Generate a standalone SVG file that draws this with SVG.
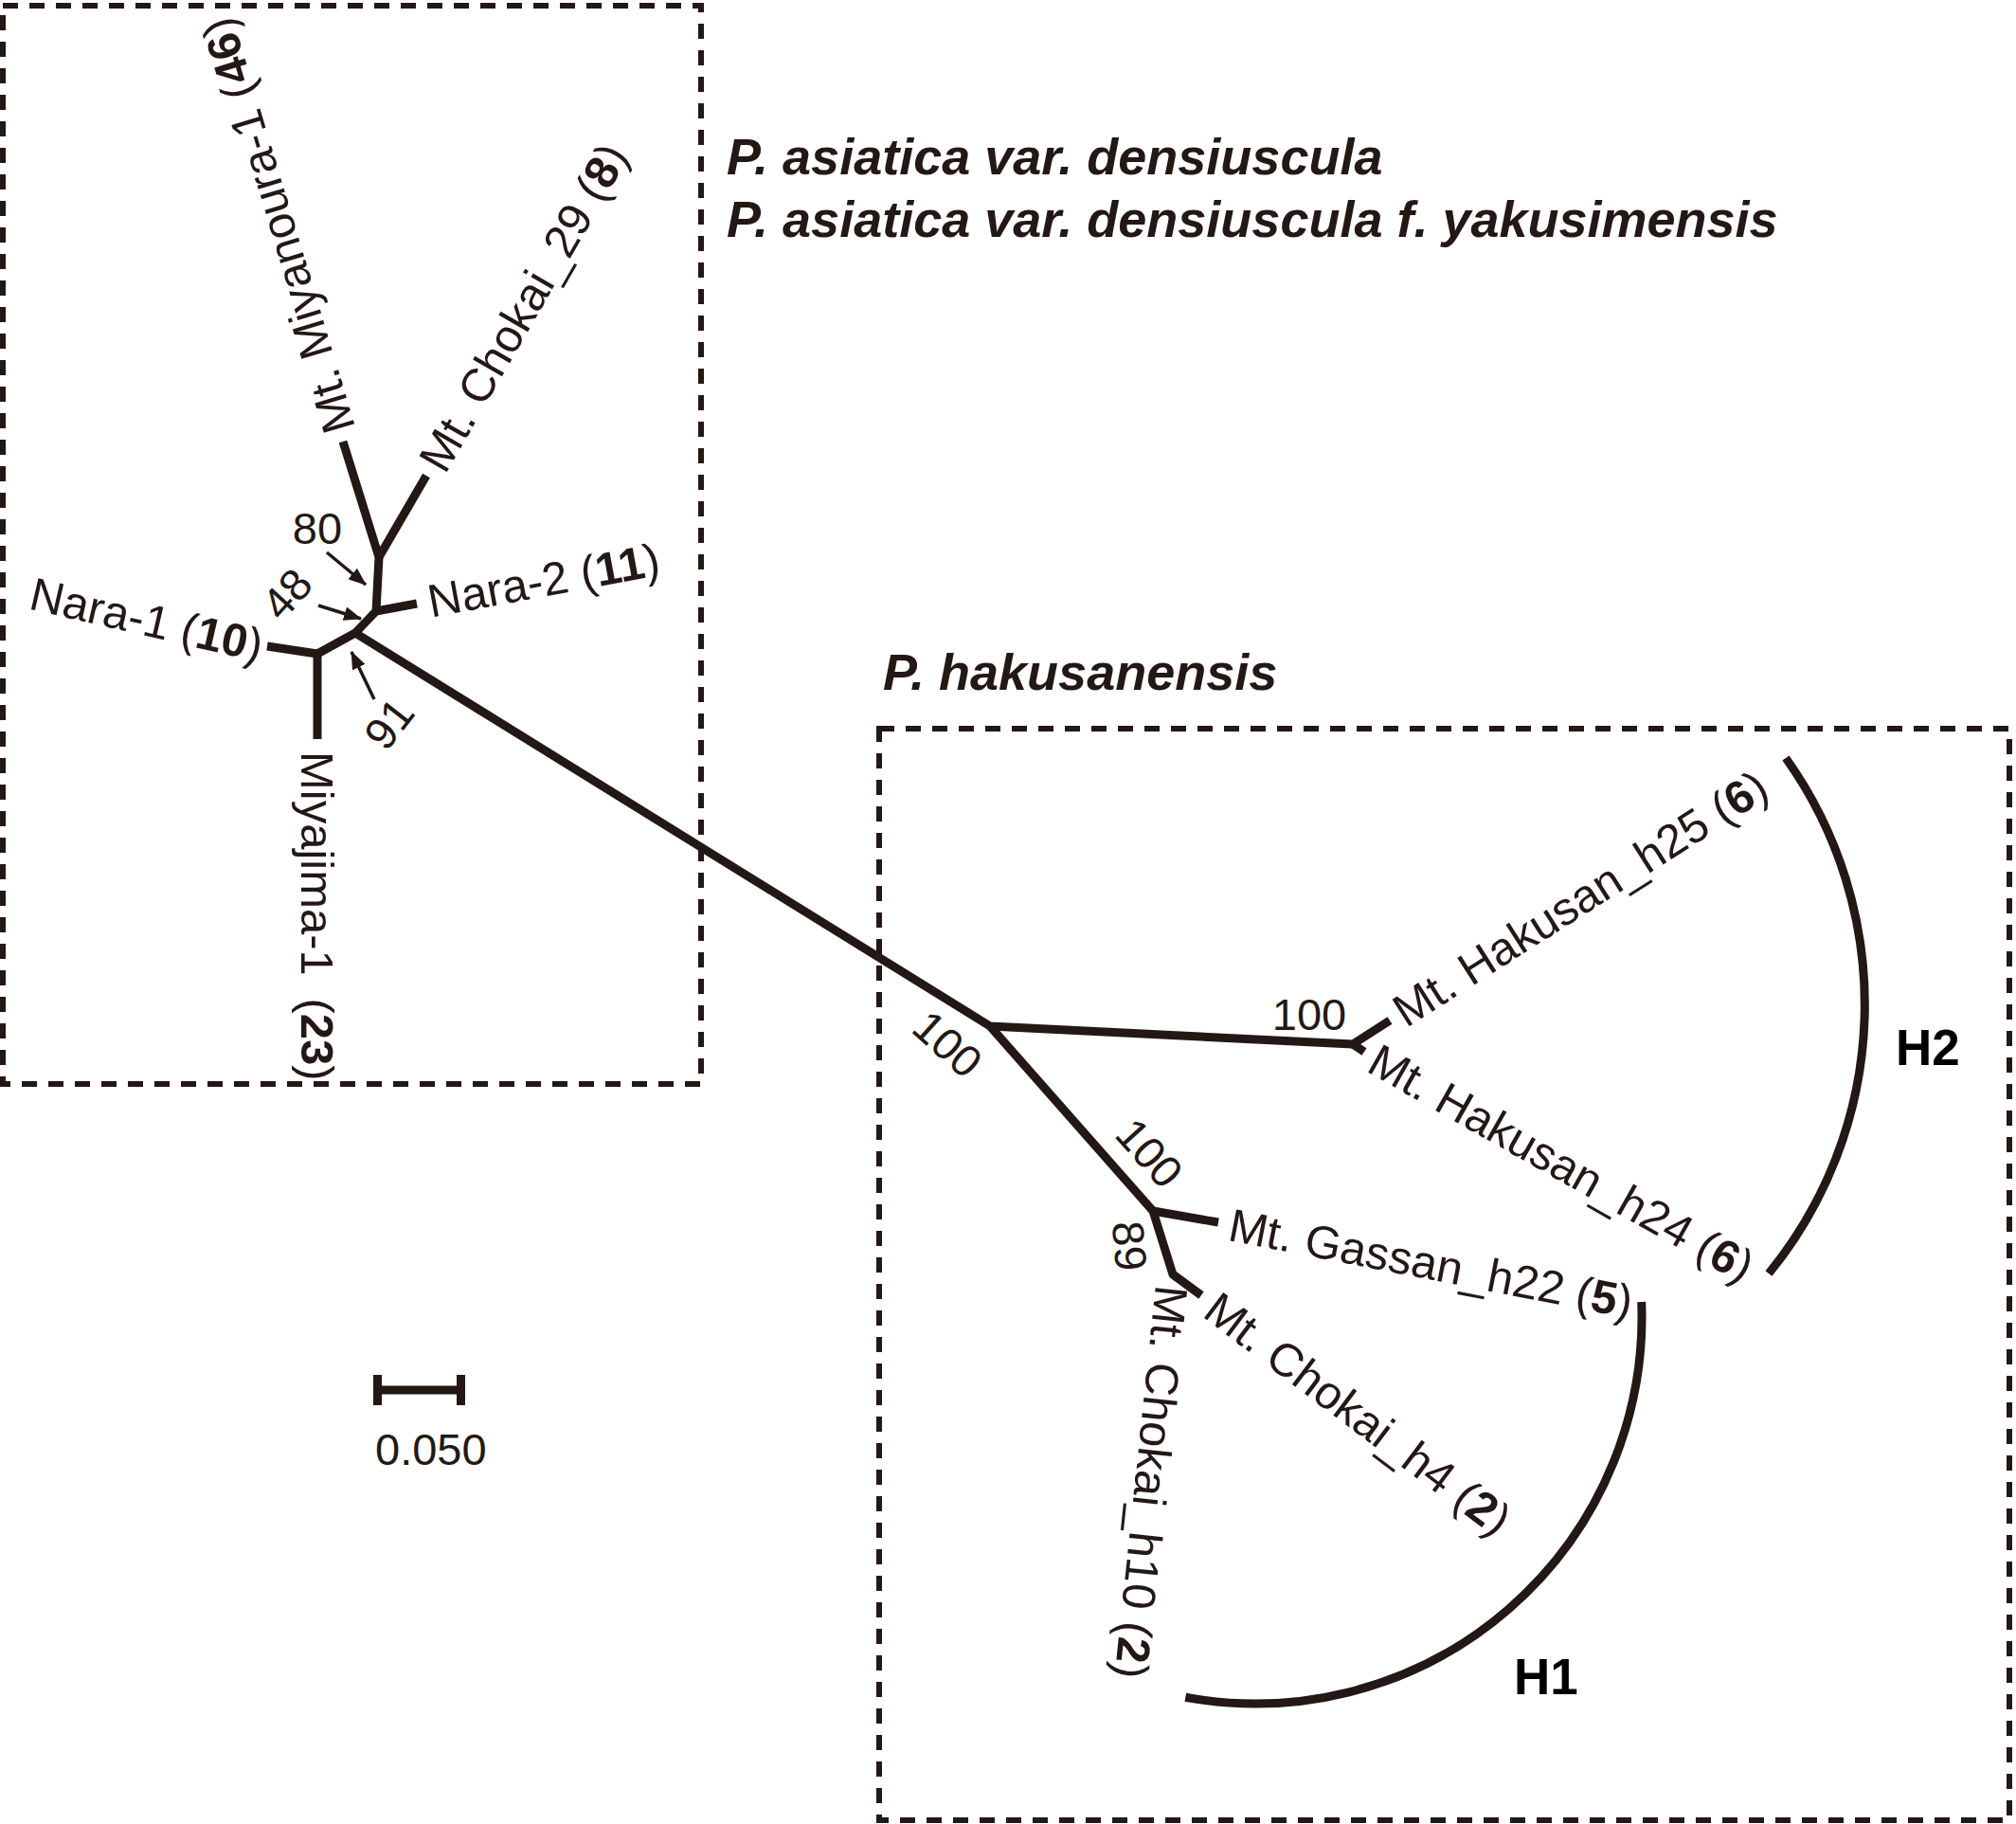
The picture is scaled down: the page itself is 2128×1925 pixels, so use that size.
<svg xmlns="http://www.w3.org/2000/svg" width="2128" height="1925" viewBox="0 0 2128 1925">
<defs>
<style>
.box{fill:none;stroke:#231815;stroke-width:6;stroke-dasharray:16 12}
.br{fill:none;stroke:#231815;stroke-width:9;stroke-linejoin:round;stroke-linecap:butt}
.arc{fill:none;stroke:#231815;stroke-width:9;stroke-linecap:butt}
.arr{fill:none;stroke:#231815;stroke-width:3.5}
.lbl{font-family:"Liberation Sans",Arial,sans-serif;font-size:49px;fill:#231815;dominant-baseline:central}
.bs{font-family:"Liberation Sans",Arial,sans-serif;font-size:47px;fill:#231815}
.b{font-weight:bold}
.title{font-family:"Liberation Sans",Arial,sans-serif;font-size:54px;font-weight:bold;font-style:italic;fill:#231815}
.grp{font-family:"Liberation Sans",Arial,sans-serif;font-size:53px;font-weight:bold;fill:#000}
</style>
<marker id="ah" markerUnits="userSpaceOnUse" markerWidth="19" markerHeight="15" refX="18" refY="7.5" orient="auto">
<path d="M0,0 L19,7.5 L0,15 z" fill="#231815"/>
</marker>
</defs>
<rect width="2128" height="1925" fill="#fff"/>

<g id="boxes">
<rect class="box" x="3" y="6" width="737" height="1138"/>
<rect class="box" x="928" y="769" width="1193" height="1152"/>
</g>

<g id="titles">
<text class="title" x="767" y="184">P. asiatica var. densiuscula</text>
<text class="title" x="767" y="250">P. asiatica var. densiuscula f. yakusimensis</text>
<text class="title" x="932" y="728">P. hakusanensis</text>
</g>

<g id="connectors">
<polyline class="br" points="282,682 335,690 375,668 397,645 400,588 362,466"/>
<polyline class="br" points="335,690 335,780"/>
<polyline class="br" points="397,645 440,637"/>
<polyline class="br" points="400,588 450,502"/>
<polyline class="br" points="375,668 1045,1083 1428,1102 1467,1077"/>
<polyline class="br" points="1428,1102 1440,1110"/>
<polyline class="br" points="1045,1083 1217,1278 1238,1345 1268,1367"/>
<polyline class="br" points="1217,1278 1286,1290"/>
<path class="arc" d="M1885,800 A448,448 0 0 1 1867,1344"/>
<path class="arc" d="M1732.7,1374 A408,408 0 0 1 1251.3,1791.3"/>
<line class="arr" x1="345" y1="583" x2="386" y2="617" marker-end="url(#ah)"/>
<line class="arr" x1="336" y1="639" x2="381" y2="653" marker-end="url(#ah)"/>
<line class="arr" x1="395" y1="738" x2="371" y2="688" marker-end="url(#ah)"/>
</g>

<g id="leaf-miyanoura"><text class="lbl" transform="translate(359,456) rotate(-106.7)">Mt. Miyanoura-1 (<tspan class="b">46</tspan>)</text></g>
<g id="leaf-chokai29"><text class="lbl" transform="translate(455,493) rotate(-60)">Mt. Chokai_29 (<tspan class="b">8</tspan>)</text></g>
<g id="leaf-nara2"><text class="lbl" transform="translate(452,635) rotate(-10.5)">Nara-2 (<tspan class="b">11</tspan>)</text></g>
<g id="leaf-nara1"><text class="lbl" text-anchor="end" transform="translate(277,682) rotate(13)">Nara-1 (<tspan class="b">10</tspan>)</text></g>
<g id="leaf-miyajima"><text class="lbl" transform="translate(335,793) rotate(90)">Miyajima-1 <tspan dx="10">(</tspan><tspan class="b">23</tspan>)</text></g>
<g id="leaf-h25"><text class="lbl" transform="translate(1475,1071) rotate(-32.5)">Mt. Hakusan_h25 (<tspan class="b">6</tspan>)</text></g>
<g id="leaf-h24"><text class="lbl" transform="translate(1449,1115) rotate(29.5)">Mt. Hakusan_h24 (<tspan class="b">6</tspan>)</text></g>
<g id="leaf-h22"><text class="lbl" transform="translate(1298,1292) rotate(11)">Mt. Gassan_h22 (<tspan class="b">5</tspan>)</text></g>
<g id="leaf-h4"><text class="lbl" transform="translate(1278,1375) rotate(37)">Mt. Chokai_h4 (<tspan class="b">2</tspan>)</text></g>
<g id="leaf-h10"><text class="lbl" transform="translate(1237,1357) rotate(96)">Mt. Chokai_h10 (<tspan class="b">2</tspan>)</text></g>

<g id="bootstrap">
<text class="bs" text-anchor="middle" x="335" y="574">80</text>
<text class="bs" text-anchor="middle" transform="translate(303,627) rotate(-48)" dy="16">48</text>
<text class="bs" text-anchor="middle" transform="translate(411,764) rotate(-52)" dy="16">91</text>
<text class="bs" text-anchor="middle" transform="translate(1000,1102) rotate(42)" dy="16">100</text>
<text class="bs" text-anchor="middle" x="1382" y="1087">100</text>
<text class="bs" text-anchor="middle" transform="translate(1213,1217) rotate(48)" dy="16">100</text>
<text class="bs" text-anchor="middle" transform="translate(1192,1315) rotate(85)" dy="16">89</text>
</g>

<g id="clades">
<text class="grp" x="2001" y="1124">H2</text>
<text class="grp" x="1598" y="1788">H1</text>
</g>

<g id="scalebar">
<line x1="394" y1="1467" x2="491" y2="1467" stroke="#231815" stroke-width="9"/>
<rect x="394" y="1451" width="9" height="32" fill="#231815"/>
<rect x="482" y="1451" width="9" height="32" fill="#231815"/>
<text class="bs" x="396" y="1546">0.050</text>
</g>
</svg>
